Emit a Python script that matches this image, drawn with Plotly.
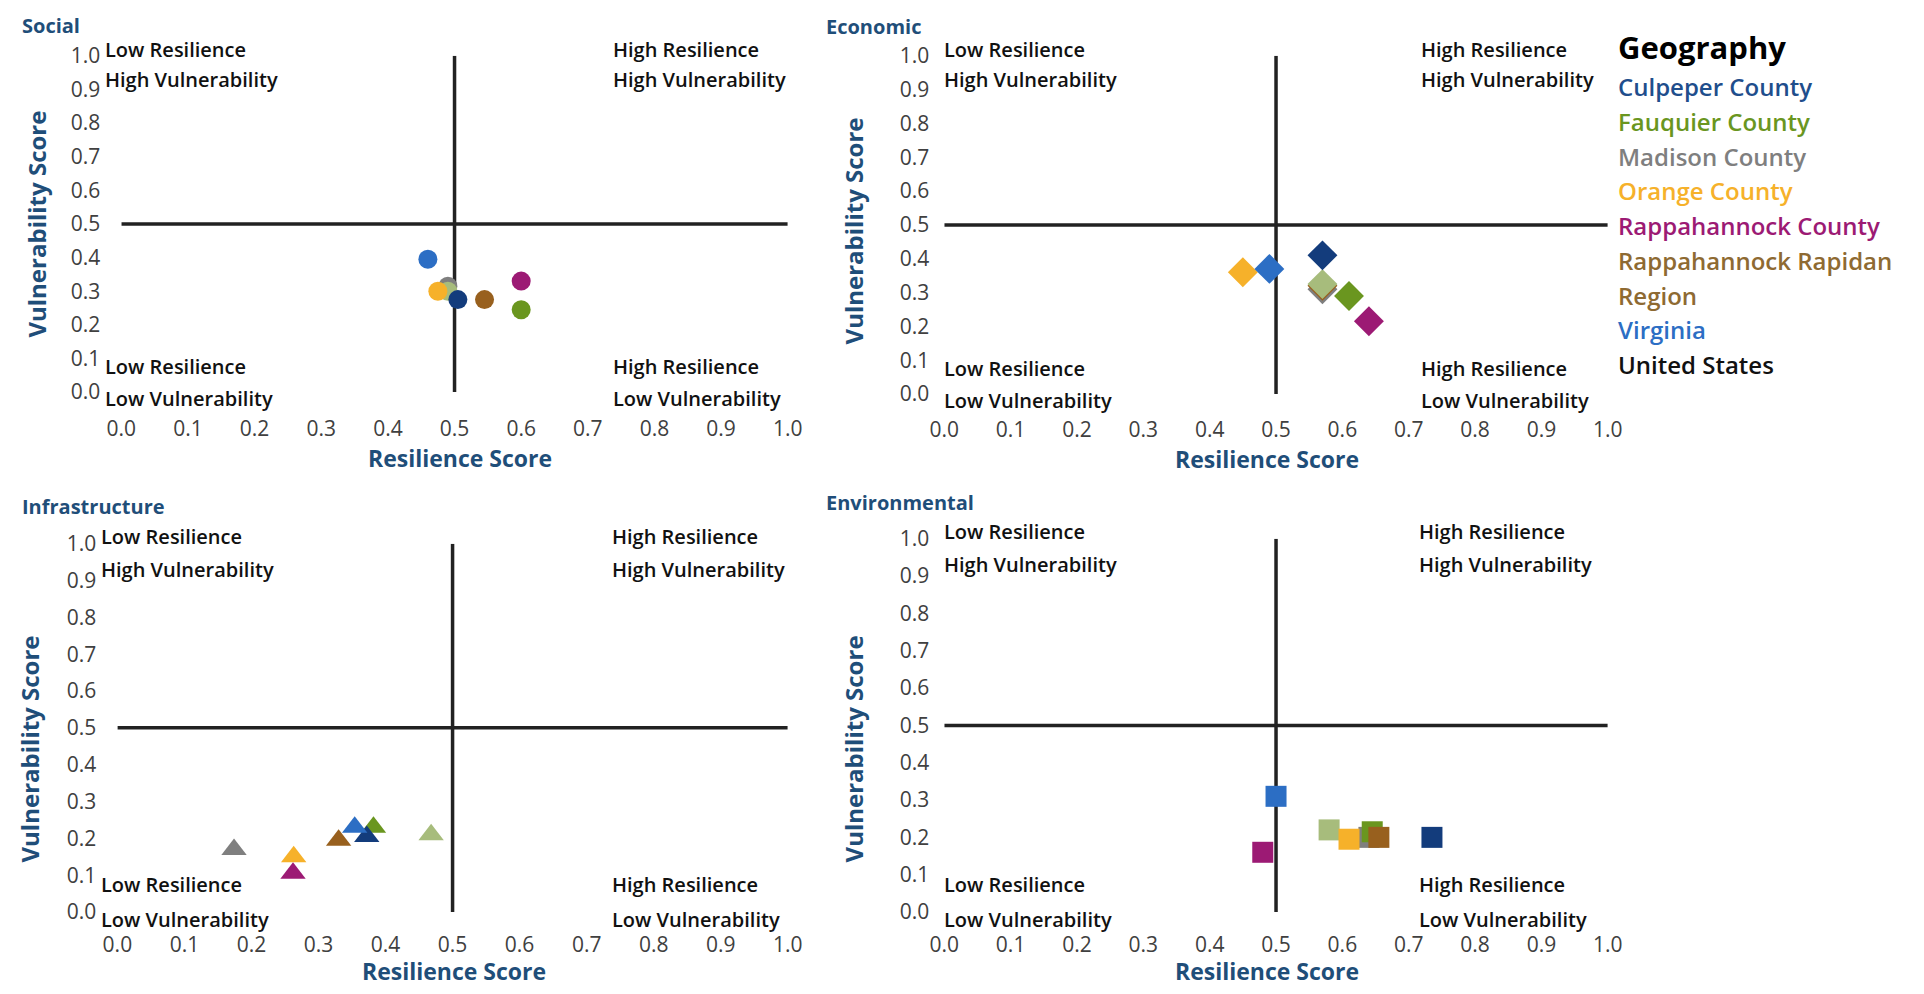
import plotly.graph_objects as go

W, H = 1924, 994

geographies = ["Culpeper County", "Fauquier County", "Madison County", "Orange County",
               "Rappahannock County", "Rappahannock Rapidan Region", "Virginia", "United States"]
marker_colors = ["#133C7C", "#6A961F", "#7F7F7F", "#F6B12A", "#9C1A74", "#98601E", "#2C6EC4", "#A7BC7C"]
legend_lines = ["Culpeper County", "Fauquier County", "Madison County", "Orange County",
                "Rappahannock County", "Rappahannock Rapidan", "Region", "Virginia", "United States"]
legend_colors = ["#1F4E8C", "#6A961F", "#7F7F7F", "#F6B12A", "#9C1A74", "#8E6A32", "#8E6A32", "#2C6EC4", "#111111"]

social_res = [0.505, 0.60, 0.49, 0.475, 0.60, 0.545, 0.46, 0.49]
social_vul = [0.275, 0.245, 0.315, 0.30, 0.33, 0.275, 0.395, 0.30]
economic_res = [0.57, 0.61, 0.57, 0.45, 0.64, 0.57, 0.49, 0.57]
economic_vul = [0.41, 0.29, 0.31, 0.36, 0.215, 0.32, 0.37, 0.325]
infra_res = [0.372, 0.382, 0.174, 0.263, 0.262, 0.33, 0.354, 0.468]
infra_vul = [0.205, 0.23, 0.17, 0.15, 0.105, 0.195, 0.23, 0.21]
env_res = [0.735, 0.645, 0.64, 0.61, 0.48, 0.655, 0.50, 0.58]
env_vul = [0.20, 0.215, 0.20, 0.195, 0.16, 0.20, 0.31, 0.22]

draw_order = [2, 1, 5, 7, 3, 0, 6, 4]

FONT = "Open Sans, Noto Sans, sans-serif"
TITLE_BLUE = "#1F4E79"

panels = [
    dict(title="Social", res=social_res, vul=social_vul, symbol="circle", size=19, qx=0.735, ystand=20, lx=-0.028,
         x0=108, x1=785, yt=42, yb=388, xstand=22, title_xy=(5, 11), ytitle_xy=(22, 215), xtitle_xy=(452, 456)),
    dict(title="Economic", res=economic_res, vul=economic_vul, symbol="diamond", size=23, qx=0.715, ystand=14, lx=-0.004,
         x0=944, x1=1618, yt=42, yb=390, xstand=21, title_xy=(822, 12), ytitle_xy=(852, 222), xtitle_xy=(1272, 457)),
    dict(title="Infrastructure", res=infra_res, vul=infra_vul, symbol="triangle-up", size=22, qx=0.735, ystand=20, lx=-0.028,
         x0=104, x1=785, yt=544, yb=923, xstand=18, title_xy=(5, 506), ytitle_xy=(15, 755), xtitle_xy=(446, 984)),
    dict(title="Environmental", res=env_res, vul=env_vul, symbol="square", size=21, qx=0.712, ystand=14, lx=-0.004,
         x0=944, x1=1618, yt=539, yb=923, xstand=18, title_xy=(822, 502), ytitle_xy=(852, 755), xtitle_xy=(1272, 984)),
]

fig = go.Figure()
annotations = []
shapes = []


def px_x(px):
    return px / W


def px_y(py):
    return 1 - py / H


for i, p in enumerate(panels):
    n = "" if i == 0 else str(i + 1)
    xa, ya = "x" + n, "y" + n
    for k in draw_order:
        fig.add_trace(go.Scatter(
            x=[p["res"][k]], y=[p["vul"][k]], xaxis=xa, yaxis=ya, mode="markers",
            marker=dict(symbol=p["symbol"], size=p["size"], color=marker_colors[k],
                        line=dict(width=0)),
            name=geographies[k], showlegend=False, cliponaxis=False))
    axis_common = dict(range=[0, 1], dtick=0.1, tick0=0, tickformat=".1f", showgrid=False,
                       zeroline=False, showline=False, ticks="",
                       tickfont=dict(family=FONT, size=21, color="#404040"))
    fig.update_layout(**{
        "xaxis" + n: dict(axis_common, domain=[px_x(p["x0"]), px_x(p["x1"])], anchor=ya,
                          ticklabelstandoff=p["xstand"]),
        "yaxis" + n: dict(axis_common, domain=[px_y(p["yb"]), px_y(p["yt"])], anchor=xa,
                          ticklabelstandoff=p["ystand"]),
    })
    shapes.append(dict(type="line", xref=xa, yref=ya, x0=0, x1=1, y0=0.5, y1=0.5,
                       line=dict(color="#222222", width=3.5), layer="below"))
    shapes.append(dict(type="line", xref=xa, yref=ya, x0=0.5, x1=0.5, y0=0, y1=1,
                       line=dict(color="#222222", width=3.5), layer="below"))

    def dx(v, p=p):
        return px_x(p["x0"] + v * (p["x1"] - p["x0"]))

    def dy(v, p=p):
        return px_y(p["yb"] - v * (p["yb"] - p["yt"]))

    qf = dict(family=FONT, size=20, color="#111111", weight=600)
    lx = p["lx"]
    for txt, xv, yv in [("Low Resilience", lx, 1.02), ("High Vulnerability", lx, 0.93),
                        ("High Resilience", p["qx"], 1.02), ("High Vulnerability", p["qx"], 0.93),
                        ("Low Resilience", lx, 0.075), ("Low Vulnerability", lx, -0.02),
                        ("High Resilience", p["qx"], 0.075), ("Low Vulnerability", p["qx"], -0.02)]:
        annotations.append(dict(text=txt, x=dx(xv), y=dy(yv), xref="paper", yref="paper", showarrow=False,
                                xanchor="left", yanchor="middle", font=qf))
    annotations.append(dict(text="<b>%s</b>" % p["title"], x=px_x(p["title_xy"][0]), y=px_y(p["title_xy"][1]),
                            xref="paper", yref="paper", showarrow=False, xanchor="left", yanchor="middle",
                            font=dict(family=FONT, size=20, color=TITLE_BLUE)))
    annotations.append(dict(text="<b>Vulnerability Score</b>", x=px_x(p["ytitle_xy"][0]), y=px_y(p["ytitle_xy"][1]),
                            xref="paper", yref="paper", showarrow=False, textangle=-90,
                            xanchor="center", yanchor="middle",
                            font=dict(family=FONT, size=24, color=TITLE_BLUE)))
    annotations.append(dict(text="<b>Resilience Score</b>", x=px_x(p["xtitle_xy"][0]), y=px_y(p["xtitle_xy"][1]),
                            xref="paper", yref="paper", showarrow=False, xanchor="center", yanchor="middle",
                            font=dict(family=FONT, size=23, color=TITLE_BLUE)))

annotations.append(dict(text="<b>Geography</b>", x=px_x(1626), y=px_y(33), xref="paper", yref="paper",
                        showarrow=False, xanchor="left", yanchor="middle",
                        font=dict(family=FONT, size=31, color="#000000")))
for j, (txt, col) in enumerate(zip(legend_lines, legend_colors)):
    annotations.append(dict(text=txt, x=px_x(1626), y=px_y(74 + j * 35.7), xref="paper", yref="paper",
                            showarrow=False, xanchor="left", yanchor="middle",
                            font=dict(family=FONT, size=24, color=col, weight=600)))

fig.update_layout(width=W, height=H, margin=dict(l=0, r=0, t=0, b=0),
                  paper_bgcolor="white", plot_bgcolor="white",
                  annotations=annotations, shapes=shapes, showlegend=False)

fig.write_html("out.html", config={"displayModeBar": False},
               post_script="document.body.style.margin='0';document.body.style.overflow='hidden';")
